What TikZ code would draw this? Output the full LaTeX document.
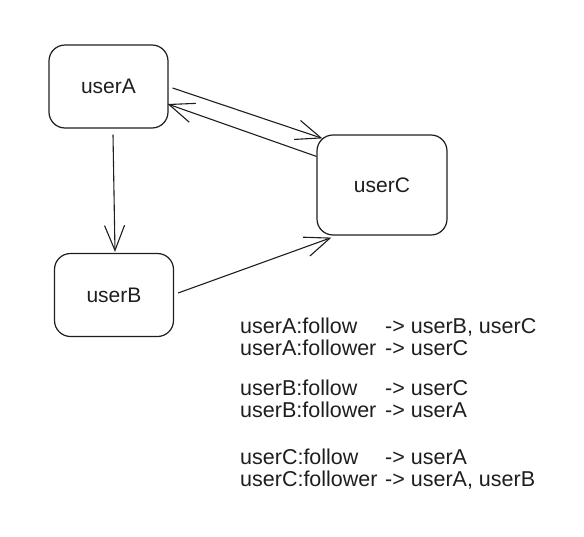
\documentclass[tikz,border=0pt]{standalone}
\usepackage{fontspec}
\setmainfont{Liberation Sans}
\usetikzlibrary{arrows.meta,calc}

\definecolor{trazo}{HTML}{1E1E1E}

\begin{document}
\begin{tikzpicture}[x=1pt,y=-1pt,
	caja/.style={draw=trazo,line width=1.2pt,rounded corners=16pt,minimum width=119pt,minimum height=83pt,inner sep=0pt,text=trazo,font=\fontsize{21}{24}\selectfont},
	flecha/.style={draw=trazo,line width=1.1pt,-{Straight Barb[length=25pt,width=20pt,line width=1.1pt]}},
	linea/.style={anchor=base west,inner sep=0pt,text=trazo,font=\fontsize{21.5}{24}\selectfont}]
\useasboundingbox (0,0) rectangle (584,536);

% % Usuarios
\node[caja] (userA) at (108.5,86.5) {userA};
\node[caja] (userB) at (114,295) {userB};
\node[caja,minimum width=130pt,minimum height=100pt] (userC) at (382,185) {userC};

% Relaciones de seguimiento
\draw[flecha] ($(userA.east)+(4,1.5)$) -- ($(userC.north west)+(6,4)$);
\draw[flecha] ($(userC.north west)+(0,22)$) -- ($(userA.east)+(-1,17.5)$);
\draw[flecha] ($(userA.south)+(4.5,6)$) -- ($(userB.north)+(1,-1)$);
\draw[flecha] ($(userB.east)+(4,-2)$) -- ($(userC.south west)+(15,2)$);

% Lista de relaciones
\node[linea] (lineaA1) at (240,333) {\makebox[145pt][l]{userA:follow}-> userB, userC};
\node[linea] (lineaA2) at (240,355) {\makebox[145pt][l]{userA:follower}-> userC};

\node[linea] (lineaB1) at (240,395) {\makebox[145pt][l]{userB:follow}-> userC};
\node[linea] (lineaB2) at (240,417) {\makebox[145pt][l]{userB:follower}-> userA};

\node[linea] (lineaC1) at (240,464) {\makebox[145pt][l]{userC:follow}-> userA};
\node[linea] (lineaC2) at (240,486) {\makebox[145pt][l]{userC:follower}-> userA, userB};
\end{tikzpicture}
\end{document}
